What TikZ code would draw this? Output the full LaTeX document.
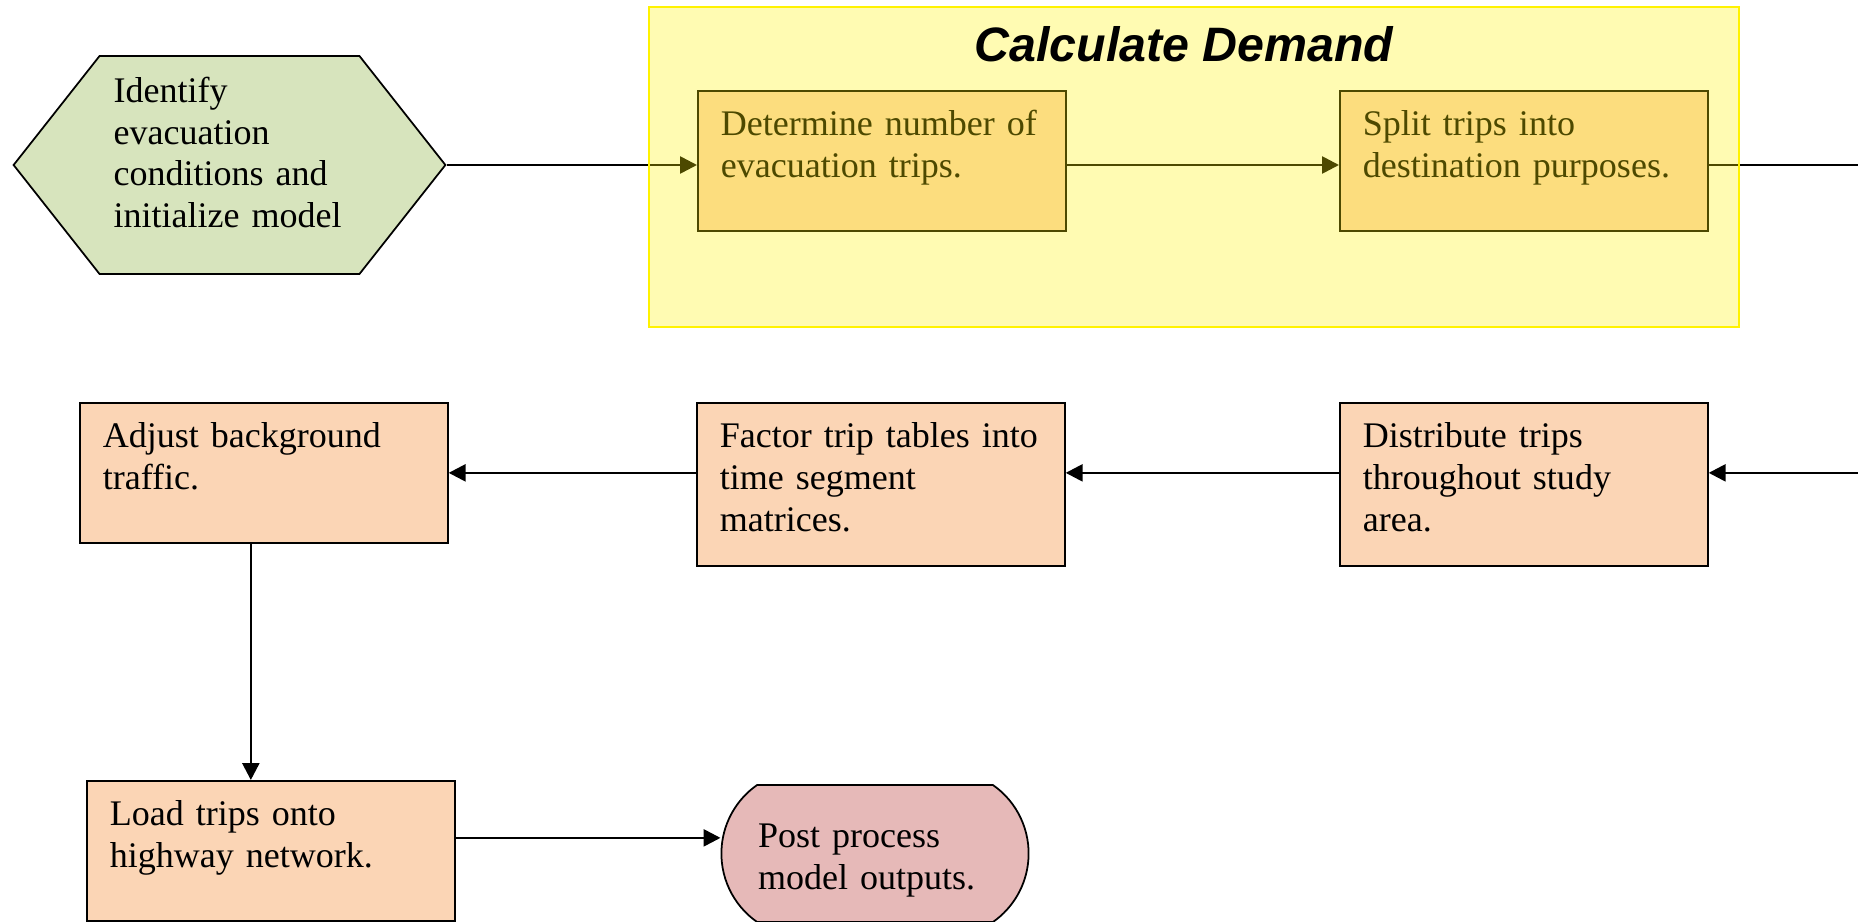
\documentclass[tikz,border=0pt]{standalone}
\usepackage{fontspec}
\setmainfont{Liberation Serif}
\newfontfamily\titlefont{Liberation Sans}
\usetikzlibrary{arrows.meta}
\usetikzlibrary{shapes.symbols,shapes.misc}
\definecolor{initgreen}{HTML}{D7E4BD}
\definecolor{stepfill}{HTML}{FBD5B5}
\definecolor{endpink}{HTML}{E6B9B8}

\begin{document}
\begin{tikzpicture}[x=0.02cm, y=-0.02cm, >={Triangle[length=0.34cm,width=0.34cm]},
    font=\fontsize{20.5}{23.9}\selectfont,
    stepbox/.style={draw, line width=1pt, fill=stepfill, anchor=north west,
        inner xsep=0.46cm, inner ysep=0pt, text width=6.44cm, align=left,
        text height=0.9cm, text depth=1.9cm},
    tallbox/.style={stepbox, text depth=2.36cm},
    flow/.style={->, line width=1.5pt}]

    \useasboundingbox (0,0) rectangle (1858,922);

    \node[draw, line width=1pt, fill=initgreen, shape=signal, signal to=east and west,
        signal pointer angle=103.5, inner xsep=0.28cm, inner ysep=0.42cm,
        text width=4.64cm, align=left, text height=0.5cm, text depth=3.02cm]
        (init) at (229.5,165) {Identify\\ evacuation\\ conditions and\\ initialize model};

    \node[stepbox] (det) at (697,90) {Determine number of\\ evacuation trips.};
    \node[stepbox] (split) at (1339,90) {Split trips into\\ destination purposes.};
    \node[stepbox] (adjust) at (79,402) {Adjust background\\ traffic.};
    \node[tallbox] (factor) at (696,402) {Factor trip tables into\\ time segment\\ matrices.};
    \node[tallbox] (distr) at (1339,402) {Distribute trips\\ throughout study\\ area.};
    \node[stepbox] (load) at (86,780) {Load trips onto\\ highway network.};

    \node[draw, line width=1pt, fill=endpink, shape=rounded rectangle,
        rounded rectangle arc length=110, minimum width=6.38cm, minimum height=2.74cm,
        text width=4.68cm, align=left, text height=0.5cm, text depth=0.76cm]
        (term) at (875,853.5) {Post process\\ model outputs.};

    \draw[flow] (init.east) -- (init.east -| det.west);
    \draw[flow] (det.east |- init.east) -- (split.west |- init.east);
    \draw[flow] (split.east |- init.east) -- ++(250,0) |- (distr.east |- adjust.east);
    \draw[flow] (distr.west |- adjust.east) -- (factor.east |- adjust.east);
    \draw[flow] (factor.west |- adjust.east) -- (adjust.east);
    \draw[flow] ([xshift=-0.26cm]adjust.south) -- ([xshift=-0.26cm]adjust.south |- load.north);
    \draw[flow] ([yshift=0.26cm]load.east) -- ([yshift=0.26cm]load.east -| term.west);

    \node[draw=yellow, line width=1.2pt, fill=yellow, fill opacity=0.3,
        minimum width=21.81cm, minimum height=6.4cm] (demand) at (1194,166.7) {};
    \node[anchor=base, font=\titlefont\bfseries\itshape\fontsize{27.5}{30}\selectfont]
        (demandtitle) at (1184,62) {Calculate Demand};
\end{tikzpicture}
\end{document}
